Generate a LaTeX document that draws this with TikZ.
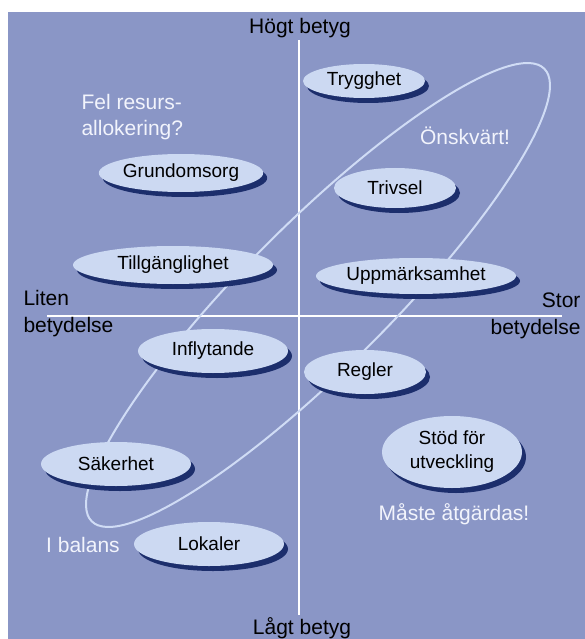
\documentclass[tikz,border=0pt]{standalone}
\usepackage{fontspec}
\setmainfont{Liberation Sans}
\usetikzlibrary{shapes.geometric,shadows}
\definecolor{panelblue}{RGB}{138,150,198}
\definecolor{ovalfill}{RGB}{204,217,242}
\definecolor{ovalshadow}{RGB}{28,46,108}
\definecolor{loopline}{RGB}{208,220,245}
\definecolor{notewhite}{RGB}{242,244,252}
\begin{document}
\begin{tikzpicture}[x=1pt,y=-1pt,
    rating/.style={ellipse,fill=ovalfill,inner sep=0pt,align=center,
      font=\fontsize{19}{24}\selectfont,
      drop shadow={shadow xshift=4pt,shadow yshift=-5pt,fill=ovalshadow,opacity=1}},
    note/.style={text=notewhite,font=\fontsize{21}{26}\selectfont,align=left},
    axislabel/.style={font=\fontsize{21}{27}\selectfont}]
  \useasboundingbox (0,0) rectangle (585,639);
  \fill[panelblue] (8,12) rectangle (585,639);
  % axes
  \coordinate (top) at (299,40);
  \coordinate (bottom) at (299,615);
  \coordinate (left) at (47,316);
  \coordinate (right) at (562,316);
  \draw[white,line width=2pt] (top) -- (bottom);
  \draw[white,line width=2pt] (left) -- (right);
  \node[axislabel] (high) at (300,28) {Högt betyg};
  \node[axislabel] (low) at (302,628) {Lågt betyg};
  \node[axislabel,anchor=west,align=left] (small) at (20,314) {Liten\\betydelse};
  \node[axislabel,anchor=east,align=right] (large) at (584,316) {Stor\\betydelse};
  % the balance loop
  \draw[loopline,line width=2pt,rotate around={45:(318,295)}]
    (318,295) ellipse [x radius=320,y radius=72];
  % ratings
  \node[rating,minimum width=122pt,minimum height=34pt] (trygghet) at (364,81) {Trygghet};
  \node[rating,minimum width=150pt,minimum height=38pt] (grund) at (181,173) {Grundomsorg};
  \node[rating,minimum width=122pt,minimum height=40pt] (trivsel) at (395,188) {Trivsel};
  \node[rating,minimum width=200pt,minimum height=38pt] (tillg) at (173,265) {Tillgänglighet};
  \node[rating,minimum width=200pt,minimum height=36pt] (uppm) at (416,276) {Uppmärksamhet};
  \node[rating,minimum width=150pt,minimum height=44pt] (infl) at (213,351) {Inflytande};
  \node[rating,minimum width=122pt,minimum height=44pt] (regler) at (365,372) {Regler};
  \node[rating,minimum width=150pt,minimum height=44pt] (saker) at (116,464) {Säkerhet};
  \node[rating,minimum width=140pt,minimum height=72pt] (stod) at (452,452) {Stöd för\\utveckling};
  \node[rating,minimum width=150pt,minimum height=44pt] (lokaler) at (209,544) {Lokaler};
  % notes
  \node[note,anchor=west] (fel) at (78,117) {Fel resurs-\\allokering?};
  \node[note] (onsk) at (465,136) {Önskvärt!};
  \node[note] (maste) at (454,514) {Måste åtgärdas!};
  \node[note] (balans) at (83,545) {I balans};
\end{tikzpicture}
\end{document}
